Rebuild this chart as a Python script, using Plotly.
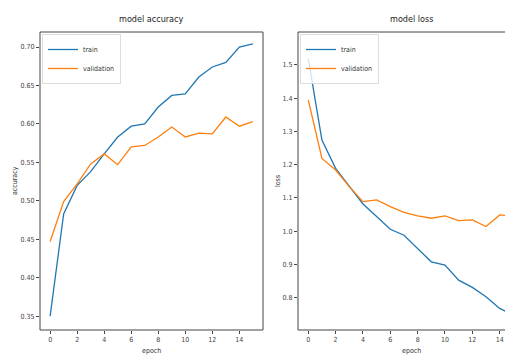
import plotly.graph_objects as go

epochs = list(range(16))
acc_train = [0.350, 0.483, 0.520, 0.538, 0.561, 0.583, 0.597, 0.600, 0.622, 0.637, 0.639, 0.661, 0.674, 0.680, 0.700, 0.704]
acc_val = [0.447, 0.499, 0.522, 0.548, 0.561, 0.547, 0.570, 0.572, 0.583, 0.596, 0.583, 0.588, 0.587, 0.609, 0.597, 0.603]
loss_train = [1.52, 1.274, 1.189, 1.134, 1.082, 1.044, 1.006, 0.988, 0.948, 0.908, 0.898, 0.853, 0.831, 0.803, 0.768, 0.748]
loss_val = [1.395, 1.219, 1.184, 1.134, 1.089, 1.094, 1.074, 1.057, 1.046, 1.039, 1.046, 1.032, 1.034, 1.014, 1.049, 1.046]
acc_ticks = [0.35, 0.40, 0.45, 0.50, 0.55, 0.60, 0.65, 0.70]
loss_ticks = [0.8, 0.9, 1.0, 1.1, 1.2, 1.3, 1.4, 1.5]
x_ticks = list(range(0, 16, 2))

# page body has an 8px margin; figure occupies the rest of the window
OFF = 8
W, H = 513 - OFF, 364 - OFF
FONT = "DejaVu Sans Condensed, Liberation Sans Narrow, DejaVu Sans"
BLUE, ORANGE = "#1f77b4", "#ff7f0e"

def px(x):
    return (x - OFF) / W

def py(y):
    return 1 - (y - OFF) / H

fig = go.Figure()
fig.add_trace(go.Scatter(x=epochs, y=acc_train, mode="lines", name="train",
                         line=dict(color=BLUE, width=1.3), xaxis="x", yaxis="y", legend="legend"))
fig.add_trace(go.Scatter(x=epochs, y=acc_val, mode="lines", name="validation",
                         line=dict(color=ORANGE, width=1.3), xaxis="x", yaxis="y", legend="legend"))
fig.add_trace(go.Scatter(x=epochs, y=loss_train, mode="lines", name="train",
                         line=dict(color=BLUE, width=1.3), xaxis="x2", yaxis="y2", legend="legend2"))
fig.add_trace(go.Scatter(x=epochs, y=loss_val, mode="lines", name="validation",
                         line=dict(color=ORANGE, width=1.3), xaxis="x2", yaxis="y2", legend="legend2"))

top, bot = 32, 330
l1, r1 = 40, 263
l2 = 298
r2_data = 523.6
x2_max = -0.75 + (513 - l2) / (r2_data - l2) * 16.5

axis_common = dict(showgrid=False, zeroline=False, ticks="outside", ticklen=3,
                   tickcolor="#444", tickfont=dict(family=FONT, size=7, color="#444"),
                   showline=False)

fig.update_layout(
    width=W, height=H,
    margin=dict(l=0, r=0, t=0, b=0),
    paper_bgcolor="white", plot_bgcolor="white",
    showlegend=True,
    xaxis=dict(domain=[px(l1), px(r1)], range=[-0.75, 15.75], tickvals=x_ticks, anchor="y", **axis_common),
    yaxis=dict(domain=[py(bot), py(top)], range=[0.332, 0.7195], tickvals=acc_ticks,
               tickformat=".2f", anchor="x", **axis_common),
    xaxis2=dict(domain=[px(l2), 1.0], range=[-0.75, x2_max], tickvals=x_ticks, anchor="y2", **axis_common),
    yaxis2=dict(domain=[py(bot), py(top)], range=[0.703, 1.599], tickvals=loss_ticks,
                tickformat=".1f", anchor="x2", **axis_common),
    legend=dict(x=px(42), y=py(34), xanchor="left", yanchor="top",
                bgcolor="rgba(255,255,255,0.8)", bordercolor="#ddd", borderwidth=1,
                font=dict(family=FONT, size=7, color="#333"), itemwidth=30,
                tracegroupgap=0),
    legend2=dict(x=px(300), y=py(34), xanchor="left", yanchor="top",
                 bgcolor="rgba(255,255,255,0.8)", bordercolor="#ddd", borderwidth=1,
                 font=dict(family=FONT, size=7, color="#333"), itemwidth=30,
                 tracegroupgap=0),
)

shapes = []
for x0, x1 in [(l1, r1), (l2, r2_data)]:
    shapes.append(dict(type="rect", xref="paper", yref="paper",
                       x0=px(x0), x1=px(x1), y0=py(bot), y1=py(top),
                       line=dict(color="#444", width=1), fillcolor="rgba(0,0,0,0)", layer="above"))
fig.update_layout(shapes=shapes)

def note(text, x, y, size, angle=0, color="#333"):
    return dict(text=text, x=px(x), y=py(y), xref="paper", yref="paper", textangle=angle,
                xanchor="center", yanchor="middle", showarrow=False,
                font=dict(family=FONT, size=size, color=color))

ann = [
    note("model accuracy", (l1 + r1) / 2, 19, 9, color="#222"),
    note("model loss", 411, 19, 9, color="#222"),
    note("epoch", (l1 + r1) / 2, 351, 7),
    note("epoch", 411, 351, 7),
    note("accuracy", 15, 181, 7, angle=-90),
    note("loss", 278, 181, 7, angle=-90),
]
fig.update_layout(annotations=ann)

fig.write_html("out.html")
